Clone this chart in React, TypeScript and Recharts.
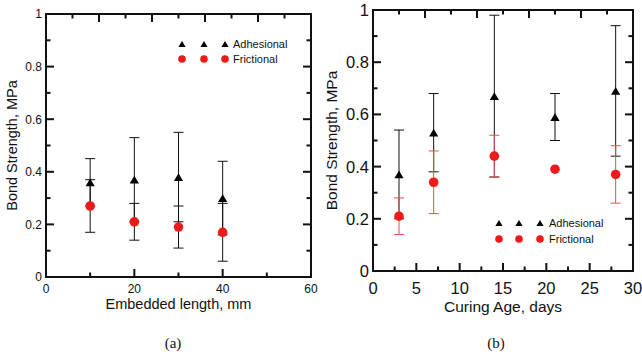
import { ScatterChart, Scatter, XAxis, YAxis, ErrorBar, Legend, Label, ReferenceArea, ReferenceLine } from 'recharts'

const FONT = '"Liberation Sans", Arial, Helvetica, sans-serif'
const INK = '#111'
const RED = '#ee1a1a'
const RED_BAR = '#e0524c'

// (a) bond strength against embedded length
const embeddedLength = [10, 20, 30, 40]
const adhesionalByLength = [0.36, 0.37, 0.38, 0.3]
const adhesionalByLengthErr = [0.09, 0.16, 0.17, 0.14]
const frictionalByLength = [0.27, 0.21, 0.19, 0.17]
const frictionalByLengthErr = [0.1, 0.07, 0.08, 0.11]

// (b) bond strength against curing age
const curingAge = [3, 7, 14, 21, 28]
const adhesionalByAge = [0.37, 0.53, 0.67, 0.59, 0.69]
const adhesionalByAgeErr = [0.17, 0.15, 0.31, 0.09, 0.25]
const frictionalByAge = [0.21, 0.34, 0.44, 0.39, 0.37]
const frictionalByAgeErr = [0.07, 0.12, 0.08, 0, 0.11]

// ticks
const lengthTicks = [0, 10, 20, 30, 40, 50, 60]
const lengthTopTicks = [0, 6, 12, 18, 24, 30, 36, 42, 48, 54, 60]
const ageTicks = [0, 2.5, 5, 7.5, 10, 12.5, 15, 17.5, 20, 22.5, 25, 27.5, 30]
const ageTopTicks = [0, 3, 6, 9, 12, 15, 18, 21, 24, 27, 30]
const strengthTicks = [0, 0.1, 0.2, 0.3, 0.4, 0.5, 0.6, 0.7, 0.8, 0.9, 1]

type Point = { x: number; y: number; err: number }

const toPoints = (xs: number[], ys: number[], errs: number[]): Point[] =>
  xs.map((x, i) => ({ x, y: ys[i], err: errs[i] }))

const MAJOR = 8
const MINOR = 4.5
const Y_AXIS_W = 40

function Tri({ cx, cy, r, fill }: { cx: number; cy: number; r: number; fill: string }) {
  const h = r * 0.85
  return <polygon points={`${cx},${cy - h} ${cx - r},${cy + h} ${cx + r},${cy + h}`} fill={fill} />
}

const strengthMajor = (v: number) => Math.round(v * 10) % 2 === 0

type PanelProps = {
  left: number
  width: number
  height: number
  margin: { top: number; right: number; bottom: number; left: number }
  xAxisHeight: number
  xDomain: [number, number]
  xTicks: number[]
  xTopTicks: number[]
  xMajor: (v: number) => boolean
  xTitle: string
  tickFont: number
  titleFont: number
  tickBaseline: number
  titleBaseline: number
  yTitleX: number
  adhesional: Point[]
  frictional: Point[]
  frictionalBar: string
  legendAt: { left: number; top: number }
  legendDx: number[]
  legendRow: number
  legendText: number
}

function Panel(p: PanelProps) {
  const [x0, x1] = p.xDomain
  // plot box size, used to turn tick lengths in px into data units
  const plotW = p.width - p.margin.left - p.margin.right - Y_AXIS_W
  const plotH = p.height - p.margin.top - p.margin.bottom - p.xAxisHeight
  const dy = (px: number) => px / plotH
  const dx = (px: number) => (px / plotW) * (x1 - x0)

  const bottomLabel = (t: any) =>
    p.xMajor(t.payload.value) ? (
      <text x={t.x} y={t.y + p.tickBaseline} textAnchor="middle" fontSize={p.tickFont} fontFamily={FONT} fill={INK}>
        {t.payload.value}
      </text>
    ) : (
      <g />
    )
  const leftLabel = (t: any) =>
    strengthMajor(t.payload.value) ? (
      <text x={t.x - 4} y={t.y} dy="0.36em" textAnchor="end" fontSize={p.tickFont} fontFamily={FONT} fill={INK}>
        {t.payload.value}
      </text>
    ) : (
      <g />
    )

  // inward tick marks on all four sides of the frame
  type Seg = [{ x: number; y: number }, { x: number; y: number }]
  const segs: Seg[] = []
  p.xTicks.slice(1, -1).forEach((v) => {
    segs.push([{ x: v, y: 0 }, { x: v, y: dy(p.xMajor(v) ? MAJOR : MINOR) }])
  })
  p.xTopTicks.slice(1, -1).forEach((v, i) => {
    segs.push([{ x: v, y: 1 }, { x: v, y: 1 - dy(i % 2 === 1 ? MAJOR : MINOR) }])
  })
  strengthTicks.slice(1, -1).forEach((v) => {
    const len = strengthMajor(v) ? MAJOR : MINOR
    segs.push([{ x: x0, y: v }, { x: x0 + dx(len), y: v }])
    segs.push([{ x: x1, y: v }, { x: x1 - dx(len), y: v }])
  })

  const legend = ({ payload }: any) => (
    <svg width={140} height={p.legendRow + 14} style={{ display: 'block', overflow: 'visible' }}>
      {(payload ?? []).map((entry: any, row: number) => {
        const cy = 6 + row * p.legendRow
        return (
          <g key={entry.value}>
            {p.legendDx.map((off) =>
              entry.type === 'triangle' ? (
                <Tri key={off} cx={6 + off} cy={cy} r={3.6} fill={entry.color} />
              ) : (
                <circle key={off} cx={6 + off} cy={cy} r={3.8} fill={entry.color} />
              ),
            )}
            <text x={6 + p.legendText} y={cy} dy="0.36em" fontSize={11} fontFamily={FONT} fill={INK}>
              {entry.value}
            </text>
          </g>
        )
      })}
    </svg>
  )

  return (
    <div style={{ position: 'absolute', left: p.left, top: 0 }}>
      <ScatterChart width={p.width} height={p.height} margin={p.margin}>
        <XAxis
          type="number"
          dataKey="x"
          domain={p.xDomain}
          ticks={p.xTicks}
          interval={0}
          allowDataOverflow
          height={p.xAxisHeight}
          tickSize={0}
          tickMargin={0}
          tickLine={false}
          axisLine={false}
          tick={bottomLabel}
        >
          <Label
            content={(l: any) => (
              <text
                x={l.viewBox.x + l.viewBox.width / 2}
                y={l.viewBox.y + p.titleBaseline}
                textAnchor="middle"
                fontSize={p.titleFont}
                fontFamily={FONT}
                fill={INK}
              >
                {p.xTitle}
              </text>
            )}
          />
        </XAxis>
        <YAxis
          type="number"
          dataKey="y"
          domain={[0, 1]}
          ticks={strengthTicks}
          interval={0}
          allowDataOverflow
          width={Y_AXIS_W}
          tickSize={0}
          tickMargin={0}
          tickLine={false}
          axisLine={false}
          tick={leftLabel}
        >
          <Label
            content={(l: any) => {
              const cy = l.viewBox.y + l.viewBox.height / 2
              return (
                <text
                  x={p.yTitleX}
                  y={cy}
                  dy="0.36em"
                  textAnchor="middle"
                  transform={`rotate(-90 ${p.yTitleX} ${cy})`}
                  fontSize={p.titleFont}
                  fontFamily={FONT}
                  fill={INK}
                >
                  Bond Strength, MPa
                </text>
              )
            }}
          />
        </YAxis>
        <Legend
          layout="vertical"
          align="center"
          verticalAlign="middle"
          wrapperStyle={{ left: p.legendAt.left, top: p.legendAt.top, width: 'auto' }}
          content={legend}
        />
        {segs.map((s, i) => (
          <ReferenceLine key={i} segment={s} stroke={INK} strokeWidth={2} ifOverflow="visible" />
        ))}
        <ReferenceArea
          x1={x0}
          x2={x1}
          y1={0}
          y2={1}
          fill="none"
          fillOpacity={0}
          stroke={INK}
          strokeWidth={2}
          strokeOpacity={1}
          ifOverflow="visible"
        />
        <Scatter
          name="Adhesional"
          data={p.adhesional}
          fill="#000"
          legendType="triangle"
          isAnimationActive={false}
          shape={(s: any) => <Tri cx={s.cx} cy={s.cy} r={4.6} fill="#000" />}
        >
          <ErrorBar dataKey="err" direction="y" width={5} stroke={INK} strokeWidth={1} />
        </Scatter>
        <Scatter
          name="Frictional"
          data={p.frictional}
          fill={RED}
          legendType="circle"
          isAnimationActive={false}
          shape={(s: any) => <circle cx={s.cx} cy={s.cy} r={4.8} fill={RED} />}
        >
          <ErrorBar dataKey="err" direction="y" width={5} stroke={p.frictionalBar} strokeWidth={1} />
        </Scatter>
      </ScatterChart>
    </div>
  )
}

const caption = (text: string, cx: number) => (
  <div
    style={{
      position: 'absolute',
      left: cx - 30,
      width: 60,
      top: 336,
      textAlign: 'center',
      fontFamily: '"Liberation Serif", "Times New Roman", serif',
      fontSize: 15,
      lineHeight: '15px',
      color: INK,
    }}
  >
    {text}
  </div>
)

export default function App() {
  return (
    <div style={{ position: 'absolute', left: 0, top: 0, width: 642, height: 354, background: '#fff' }}>
      <Panel
        left={0}
        width={320}
        height={320}
        margin={{ top: 14, right: 9, bottom: 0, left: 6 }}
        xAxisHeight={43}
        xDomain={[0, 60]}
        xTicks={lengthTicks}
        xTopTicks={lengthTopTicks}
        xMajor={(v) => v % 20 === 0}
        xTitle="Embedded length, mm"
        tickFont={12}
        titleFont={14.5}
        tickBaseline={16}
        titleBaseline={31.5}
        yTitleX={11.5}
        adhesional={toPoints(embeddedLength, adhesionalByLength, adhesionalByLengthErr)}
        frictional={toPoints(embeddedLength, frictionalByLength, frictionalByLengthErr)}
        frictionalBar={INK}
        legendAt={{ left: 176, top: 38 }}
        legendDx={[0, 22, 43]}
        legendRow={15}
        legendText={51}
      />
      <Panel
        left={320}
        width={322}
        height={320}
        margin={{ top: 10, right: 9, bottom: 0, left: 13 }}
        xAxisHeight={49}
        xDomain={[0, 30]}
        xTicks={ageTicks}
        xTopTicks={ageTopTicks}
        xMajor={(v) => v % 5 === 0}
        xTitle="Curing Age, days"
        tickFont={16.5}
        titleFont={15.5}
        tickBaseline={22.5}
        titleBaseline={41}
        yTitleX={11.5}
        adhesional={toPoints(curingAge, adhesionalByAge, adhesionalByAgeErr)}
        frictional={toPoints(curingAge, frictionalByAge, frictionalByAgeErr)}
        frictionalBar={RED_BAR}
        legendAt={{ left: 173, top: 217 }}
        legendDx={[0, 20, 41]}
        legendRow={16}
        legendText={50}
      />
      {caption('(a)', 173)}
      {caption('(b)', 496)}
    </div>
  )
}
